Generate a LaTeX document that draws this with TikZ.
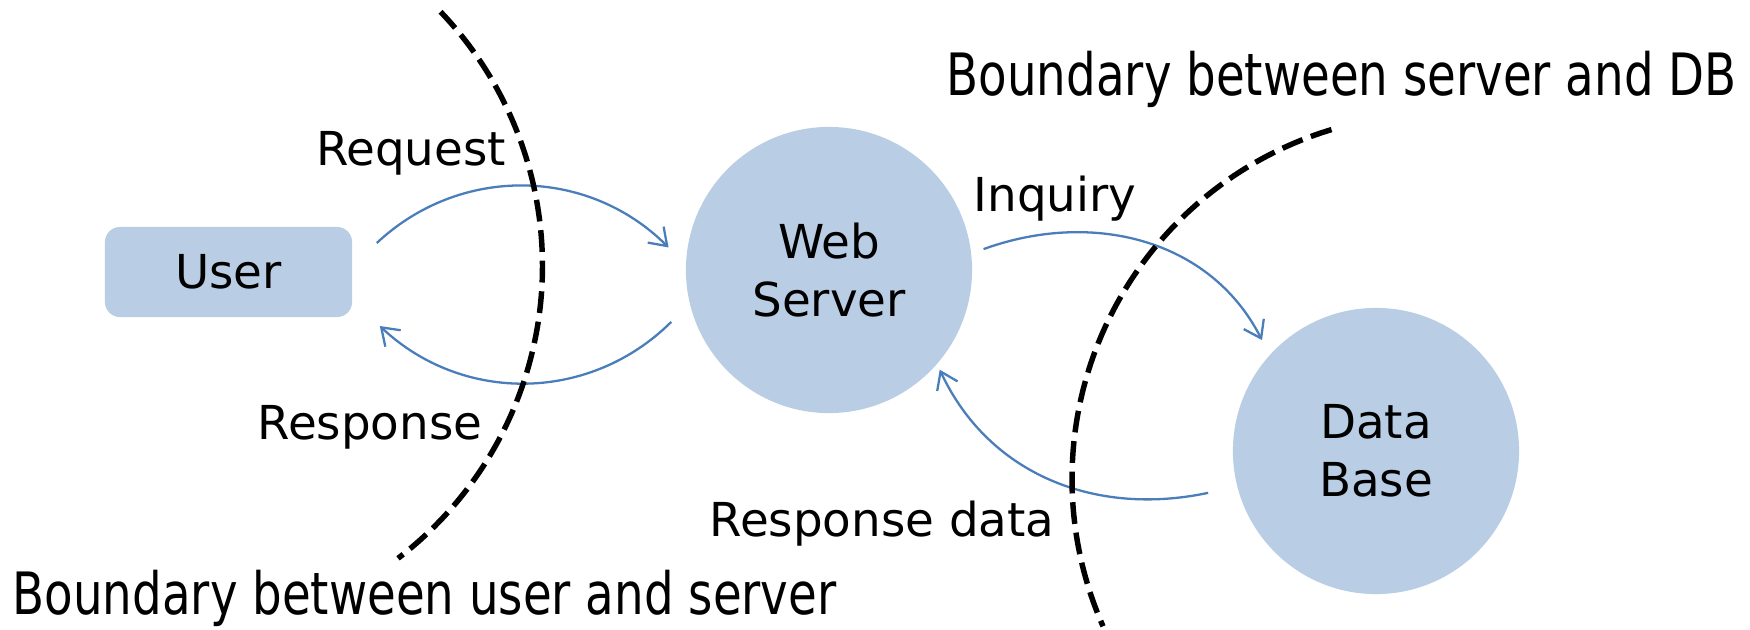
\documentclass[tikz,border=0pt]{standalone}
\usepackage{fontspec}
\setmainfont{DejaVu Sans}
\usetikzlibrary{arrows.meta}
\definecolor{nodefill}{HTML}{B9CDE5}
\definecolor{flow}{HTML}{4A7EBB}

\begin{document}
\begin{tikzpicture}[x=0.01cm,y=0.01cm,
  >={Straight Barb[length=4.6pt,width=6.4pt]},
  every node/.style={font=\fontsize{13.3}{16.5}\selectfont},
  client/.style={rectangle,rounded corners=0.15cm,fill=nodefill,minimum width=2.47cm,minimum height=0.9cm},
  machine/.style={circle,fill=nodefill,minimum size=2.86cm,align=center,inner sep=0pt},
  msg/.style={->,flow,line width=0.65pt},
  border/.style={line width=1.55pt,dash pattern=on 6.2pt off 2.5pt},
  bigtext/.style={font=\fontsize{16.6}{20}\selectfont,anchor=base west,inner sep=0pt}]

\useasboundingbox (0,0) rectangle (1750,629);

\node[client]  (user) at (228.5,357) {User};
\node[machine] (ws)   at (829,359)   {Web\\Server};
\node[machine] (db)   at (1376,178)  {Data\\Base};

\path[msg]
([shift={(24,29)}]user.east)     edge [bend left=44] ([shift={(172:162)}]ws.center)
([shift={(198.2:166)}]ws.center) edge [bend left=44] ([shift={(27,-54)}]user.east)
([shift={(7.7:156)}]ws.center)   edge [out=20,in=117] ([shift={(135.8:159)}]db.center)
([shift={(194:173)}]db.center)   edge [out=192,in=-65] ([shift={(-42:149)}]ws.center)
;

% boundaries
\draw[border] (174.5,363) ++(43.7:368) arc[start angle=43.7,end angle=-52.6,radius=368];
\draw[border] (1437,150) ++(106.8:365) arc[start angle=106.8,end angle=203.8,radius=365];

\node[anchor=base] (req)      at (411,464)  {Request};
\node[anchor=base] (resp)     at (370,190)  {Response};
\node[anchor=base] (inq)      at (1055,418) {Inquiry};
\node[anchor=base] (respdata) at (882,93)   {Response data};
\node[bigtext] (bnd1) at (12,15)   {\scalebox{0.8}[1]{Boundary between user and server}};
\node[bigtext] (bnd2) at (946,534) {\scalebox{0.8}[1]{Boundary between server and DB}};
\end{tikzpicture}
\end{document}
